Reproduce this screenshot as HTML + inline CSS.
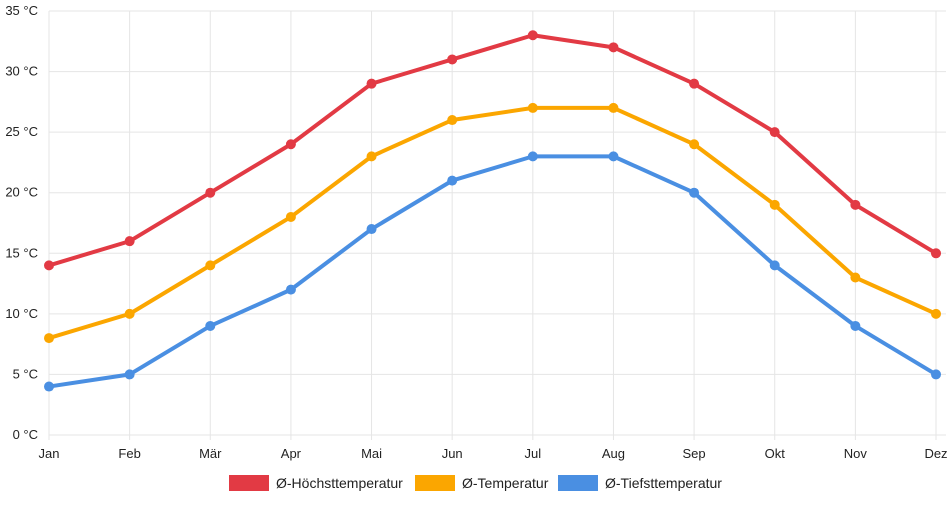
<!DOCTYPE html>
<html><head><meta charset="utf-8"><style>
body{margin:0;background:#fff;font-family:"Liberation Sans",sans-serif}
svg text{font-family:"Liberation Sans",sans-serif;font-size:13px;fill:#222}
svg text.leg{font-size:14px}
</style></head><body>
<svg id="chart" width="952" height="500"></svg>
<script>
const months=["Jan","Feb","Mär","Apr","Mai","Jun","Jul","Aug","Sep","Okt","Nov","Dez"];
const highs=[14,16,20,24,29,31,33,32,29,25,19,15];
const avgs=[8,10,14,18,23,26,27,27,24,19,13,10];
const lows=[4,5,9,12,17,21,23,23,20,14,9,5];
const yTicks=[0,5,10,15,20,25,30,35];
const seriesNames=["Ø-Höchsttemperatur","Ø-Temperatur","Ø-Tiefsttemperatur"];
const NS="http://www.w3.org/2000/svg";
const svg=document.getElementById('chart');
const x0=49,x1=936,y0=435,y1=11;
function xs(i){return x0+(x1-x0)*i/(months.length-1);}
function ys(v){return y0-(y0-y1)*v/35;}
function mk(t,a){const e=document.createElementNS(NS,t);for(const k in a)e.setAttribute(k,a[k]);svg.appendChild(e);return e;}
yTicks.forEach(v=>{
  const l=mk('line',{x1:x0,x2:x1+10,y1:ys(v),y2:ys(v),stroke:'#e5e5e5'});
  
  
  const t=mk('text',{x:38,y:ys(v)+4,'text-anchor':'end'});t.textContent=v+" °C";
  
  
});
months.forEach((m,i)=>{
  const l=mk('line',{x1:xs(i),x2:xs(i),y1:y1,y2:y0+5,stroke:'#e5e5e5'});
  
  
  const t=mk('text',{x:xs(i),y:458,'text-anchor':'middle'});t.textContent=m;
  
  
});
const series=[[highs,'#e23a44','high'],[avgs,'#fba600','avg'],[lows,'#4a8fe2','low']];
series.forEach(([d,c,n])=>{
  const p=mk('polyline',{points:d.map((v,i)=>xs(i)+','+ys(v)).join(' '),fill:'none',stroke:c,'stroke-width':4,'stroke-linejoin':'round'});
  
  
  d.forEach((v,i)=>{
    const ci=mk('circle',{cx:xs(i),cy:ys(v),r:5,fill:c});
    
    
  });
});
const lx=[229,415,558];
series.forEach(([d,c,n],k)=>{
  const r=mk('rect',{x:lx[k],y:475,width:40,height:16,fill:c});
  
  
  const t=mk('text',{x:lx[k]+47,y:488,'class':'leg'});t.textContent=seriesNames[k];
  
  
});
</script>
</body></html>
